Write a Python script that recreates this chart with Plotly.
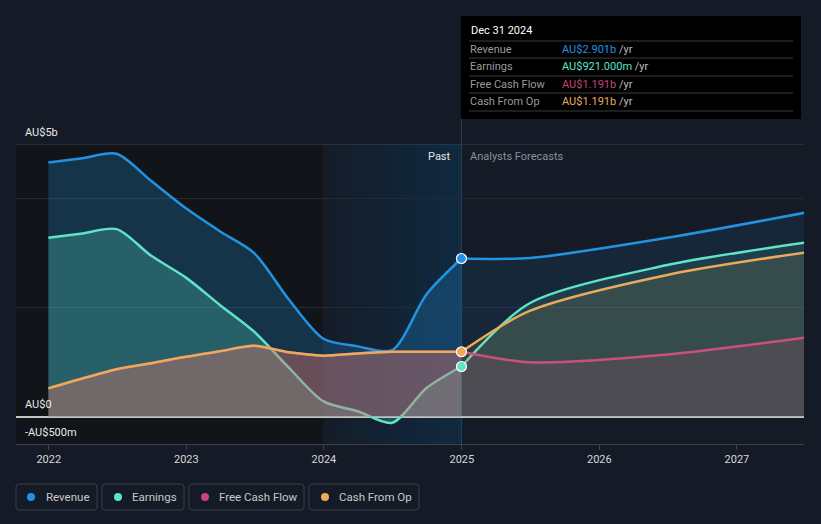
import plotly.graph_objects as go
import pandas as pd

# ---------------- data (AU$ billions) ----------------
past_dates = ["2021-12-31", "2022-03-31", "2022-06-30", "2022-09-30", "2022-12-31",
              "2023-03-31", "2023-06-30", "2023-09-30", "2023-12-31", "2024-03-31",
              "2024-06-30", "2024-09-30", "2024-12-31"]
revenue_past = [4.66, 4.74, 4.82, 4.32, 3.82, 3.40, 3.00, 2.15, 1.43, 1.29, 1.22, 2.25, 2.901]
earnings_past = [3.28, 3.36, 3.44, 2.95, 2.55, 2.05, 1.56, 0.90, 0.28, 0.10, -0.11, 0.53, 0.921]
fcf_past = [0.52, 0.70, 0.87, 0.98, 1.10, 1.20, 1.30, 1.18, 1.12, 1.16, 1.19, 1.19, 1.191]
cfo_past = [0.52, 0.70, 0.87, 0.98, 1.10, 1.20, 1.30, 1.18, 1.12, 1.16, 1.19, 1.19, 1.191]

fc_dates = ["2024-12-31", "2025-06-30", "2026-06-30", "2027-06-30"]
revenue_fc = [2.901, 2.91, 3.28, 3.74]
earnings_fc = [0.921, 2.08, 2.78, 3.19]
fcf_fc = [1.191, 1.00, 1.14, 1.45]
cfo_fc = [1.191, 1.94, 2.60, 3.01]

series_names = ["Revenue", "Earnings", "Free Cash Flow", "Cash From Op"]
tooltip_values = ["AU$2.901b", "AU$921.000m", "AU$1.191b", "AU$1.191b"]
tooltip_date = "Dec 31 2024"
year_ticks = ["2022", "2023", "2024", "2025", "2026", "2027"]
y_labels = [(5, "AU$5b"), (0, "AU$0"), (-0.5, "-AU$500m")]

# ---------------- styling ----------------
BG = "#151b26"
COLORS = ["#2293e0", "#5ee4c6", "#c7447e", "#ebab5b"]
FILL_PAST = ["rgba(34,147,224,0.25)", "rgba(94,228,198,0.25)", "rgba(199,68,126,0.28)", "rgba(235,171,91,0.20)"]
FILL_FC = ["rgba(34,147,224,0.10)", "rgba(94,228,198,0.12)", "rgba(199,68,126,0.16)", "rgba(235,171,91,0.12)"]
FONT = "Roboto"

W, H = 821, 524
PL, PR, PT, PB = 16, 804, 144, 444


def px(x):
    return (x - PL) / (PR - PL)


def py(y):
    return (PB - y) / (PB - PT)


fig = go.Figure()

past_sets = [revenue_past, earnings_past, fcf_past, cfo_past]
fc_sets = [revenue_fc, earnings_fc, fcf_fc, cfo_fc]

for i in range(4):
    fig.add_trace(go.Scatter(x=past_dates, y=past_sets[i], mode="lines",
                             line=dict(color=COLORS[i], width=2.5, shape="spline", smoothing=0.8),
                             fill="tozeroy", fillcolor=FILL_PAST[i], hoverinfo="skip", showlegend=False))
for i in range(4):
    fig.add_trace(go.Scatter(x=fc_dates, y=fc_sets[i], mode="lines",
                             line=dict(color=COLORS[i], width=2.5, shape="spline", smoothing=0.8),
                             fill="tozeroy", fillcolor=FILL_FC[i], hoverinfo="skip", showlegend=False))
# markers at last actual point
for i in [0, 1, 3]:
    fig.add_trace(go.Scatter(x=[past_dates[-1]], y=[past_sets[i][-1]], mode="markers",
                             marker=dict(color=COLORS[i], size=10, line=dict(color="#ffffff", width=1.2)),
                             hoverinfo="skip", showlegend=False))

shapes = []
# dark past region
shapes.append(dict(type="rect", xref="paper", yref="y", x0=0, x1=px(323), y0=-0.5, y1=5,
                   fillcolor="#111419", line=dict(width=0), layer="below"))
# gradient band 2024 -> 2025
n = 28
edges = pd.date_range("2024-01-01", "2024-12-31", periods=n + 1)
for k in range(n):
    a = 0.04 + 0.30 * (k + 0.5) / n
    shapes.append(dict(type="rect", xref="x", yref="y", x0=edges[k], x1=edges[k + 1], y0=-0.5, y1=5,
                       fillcolor=f"rgba(10,72,118,{a:.3f})", line=dict(width=0), layer="below"))
# top line at 5b
shapes.append(dict(type="line", xref="paper", yref="y", x0=0, x1=1, y0=5, y1=5,
                   line=dict(color="#41464f", width=1), layer="below"))
# vertical tooltip line
shapes.append(dict(type="line", xref="x", yref="paper", x0="2024-12-31", x1="2024-12-31", y0=0, y1=py(119),
                   line=dict(color="#26435e", width=1), layer="below"))
# tooltip box
shapes.append(dict(type="rect", xref="paper", yref="paper", x0=px(461), x1=px(801), y0=py(119), y1=py(16),
                   fillcolor="#000000", line=dict(width=0)))
for yy in [41, 58, 76, 93, 111]:
    shapes.append(dict(type="line", xref="paper", yref="paper", x0=px(469), x1=px(793), y0=py(yy), y1=py(yy),
                       line=dict(color="#3a3a3a", width=1)))

annotations = []
annotations.append(dict(xref="paper", yref="paper", x=px(469), y=py(31), text=tooltip_date, showarrow=False,
                        xanchor="left", yanchor="middle", font=dict(family=FONT, size=11, color="#ffffff")))
row_y = [49, 66, 84, 101]
for i in range(4):
    annotations.append(dict(xref="paper", yref="paper", x=px(468), y=py(row_y[i]), text=series_names[i],
                            showarrow=False, xanchor="left", yanchor="middle",
                            font=dict(family=FONT, size=11, color="#9a9a9a")))
    annotations.append(dict(xref="paper", yref="paper", x=px(560), y=py(row_y[i]),
                            text=f"<span style='color:{COLORS[i]}'>{tooltip_values[i]}</span> /yr",
                            showarrow=False, xanchor="left", yanchor="middle",
                            font=dict(family=FONT, size=11, color="#bdbdbd")))

# Past / Analysts Forecasts
annotations.append(dict(xref="paper", yref="paper", x=px(453), y=py(156), text="Past", showarrow=False,
                        xanchor="right", yanchor="middle", font=dict(family=FONT, size=11, color="#e6e6e6")))
annotations.append(dict(xref="paper", yref="paper", x=px(468), y=py(156), text="Analysts Forecasts",
                        showarrow=False, xanchor="left", yanchor="middle",
                        font=dict(family=FONT, size=11, color="#8c9096")))

# y labels
for val, lab in y_labels:
    annotations.append(dict(xref="paper", yref="y", x=px(23), y=val, yshift=12, text=lab, showarrow=False,
                            xanchor="left", yanchor="middle", font=dict(family=FONT, size=11, color="#e8e8e8")))

# legend boxes
boxes = [(16, 97, 31, 44), (102, 184, 118, 130), (189, 304, 205, 217), (309, 419, 325, 337)]
r = 3
for i, (x0, x1, dx, tx) in enumerate(boxes):
    y0, y1 = 484, 510
    X0, X1 = px(x0), px(x1)
    Y0, Y1 = py(y1), py(y0)
    rx, ry = r / (PR - PL), r / (PB - PT)
    path = (f"M {X0+rx},{Y0} L {X1-rx},{Y0} Q {X1},{Y0} {X1},{Y0+ry} L {X1},{Y1-ry} Q {X1},{Y1} {X1-rx},{Y1} "
            f"L {X0+rx},{Y1} Q {X0},{Y1} {X0},{Y1-ry} L {X0},{Y0+ry} Q {X0},{Y0} {X0+rx},{Y0} Z")
    shapes.append(dict(type="path", xref="paper", yref="paper", path=path,
                       line=dict(color="#3a404b", width=1), fillcolor="rgba(0,0,0,0)"))
    shapes.append(dict(type="circle", xref="paper", yref="paper",
                       x0=px(dx - 4), x1=px(dx + 4), y0=py(497 + 4), y1=py(497 - 4),
                       fillcolor=COLORS[i], line=dict(width=0)))
    annotations.append(dict(xref="paper", yref="paper", x=px(tx), y=py(497), text=series_names[i],
                            showarrow=False, xanchor="left", yanchor="middle",
                            font=dict(family=FONT, size=11.5, color="#c8c8c8")))

fig.update_layout(
    width=W, height=H,
    margin=dict(l=PL, r=W - PR, t=PT, b=H - PB, pad=0),
    paper_bgcolor=BG, plot_bgcolor=BG,
    showlegend=False,
    shapes=shapes, annotations=annotations,
    xaxis=dict(range=["2021-10-06", "2027-06-28"], showgrid=False, zeroline=False,
               showline=True, linecolor="#3c414a", linewidth=1,
               ticks="outside", ticklen=5, tickcolor="#3c414a",
               tickvals=[f"{y}-01-01" for y in year_ticks], ticktext=year_ticks,
               tickfont=dict(family=FONT, size=11, color="#d6d6d6")),
    yaxis=dict(range=[-0.5, 5], showticklabels=False, showgrid=True, gridcolor="#242a33", gridwidth=1,
               tickvals=[2, 4], zeroline=True, zerolinecolor="#c4c4c4", zerolinewidth=1.5, showline=False),
)

fig.write_html("out.html", config={"displayModeBar": False},
               post_script="document.body.style.margin='0';document.body.style.padding='0';"
                           "document.body.style.background='" + BG + "';"
                           "document.documentElement.style.overflow='hidden';")
